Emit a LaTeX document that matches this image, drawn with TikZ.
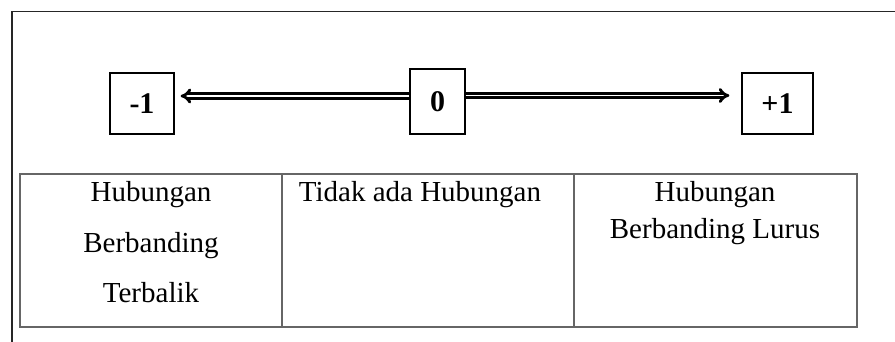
\documentclass[tikz,border=0pt]{standalone}
\usepackage{fontspec}
\setmainfont{Liberation Serif}
\usetikzlibrary{arrows.meta}
\begin{document}
\begin{tikzpicture}[x=1pt,y=-1pt,
  numbox/.style={draw=black, line width=1.2pt, inner sep=0pt, font=\fontsize{30}{34}\selectfont\bfseries},
  dbl/.style={double, double distance=1.8pt, line width=2.8pt, -{Implies[scale=1.5]}},
  cell/.style={draw=black!60, line width=1.3pt, inner sep=0pt},
  txt/.style={anchor=base, inner sep=0pt, font=\fontsize{29}{34}\selectfont}]
\useasboundingbox (0,0) rectangle (895,342);
\draw[line width=1.5pt, black!85] (895,11.5) -- (12,11.5) -- (12,342);
% number boxes
\node[numbox, minimum width=64pt, minimum height=61pt] (mone) at (142,103.5) {-1};
\node[numbox, minimum width=55pt, minimum height=65pt] (zero) at (437.5,101.5) {0};
\node[numbox, minimum width=71pt, minimum height=61pt] (pone) at (777.5,103.5) {+1};
% arrows
\draw[dbl, shorten >=6pt] (zero.west |- 0,96) -- (mone.east |- 0,96);
\draw[dbl, shorten >=12pt] (zero.east |- 0,95.5) -- (pone.west |- 0,95.5);
% table cells
\node[cell, minimum width=262pt, minimum height=153pt] (c1) at (151,250.5) {};
\node[cell, minimum width=292pt, minimum height=153pt] (c2) at (428,250.5) {};
\node[cell, minimum width=283pt, minimum height=153pt] (c3) at (715.5,250.5) {};
% texts
\node[txt] (l1) at (151,202) {Hubungan};
\node[txt] (l2) at (151,252.5) {Berbanding};
\node[txt] (l3) at (151,302) {Terbalik};
\node[txt] (m1) at (420,202) {Tidak ada Hubungan};
\node[txt] (r1) at (715,202) {Hubungan};
\node[txt] (r2) at (715,238) {Berbanding Lurus};
\end{tikzpicture}
\end{document}
